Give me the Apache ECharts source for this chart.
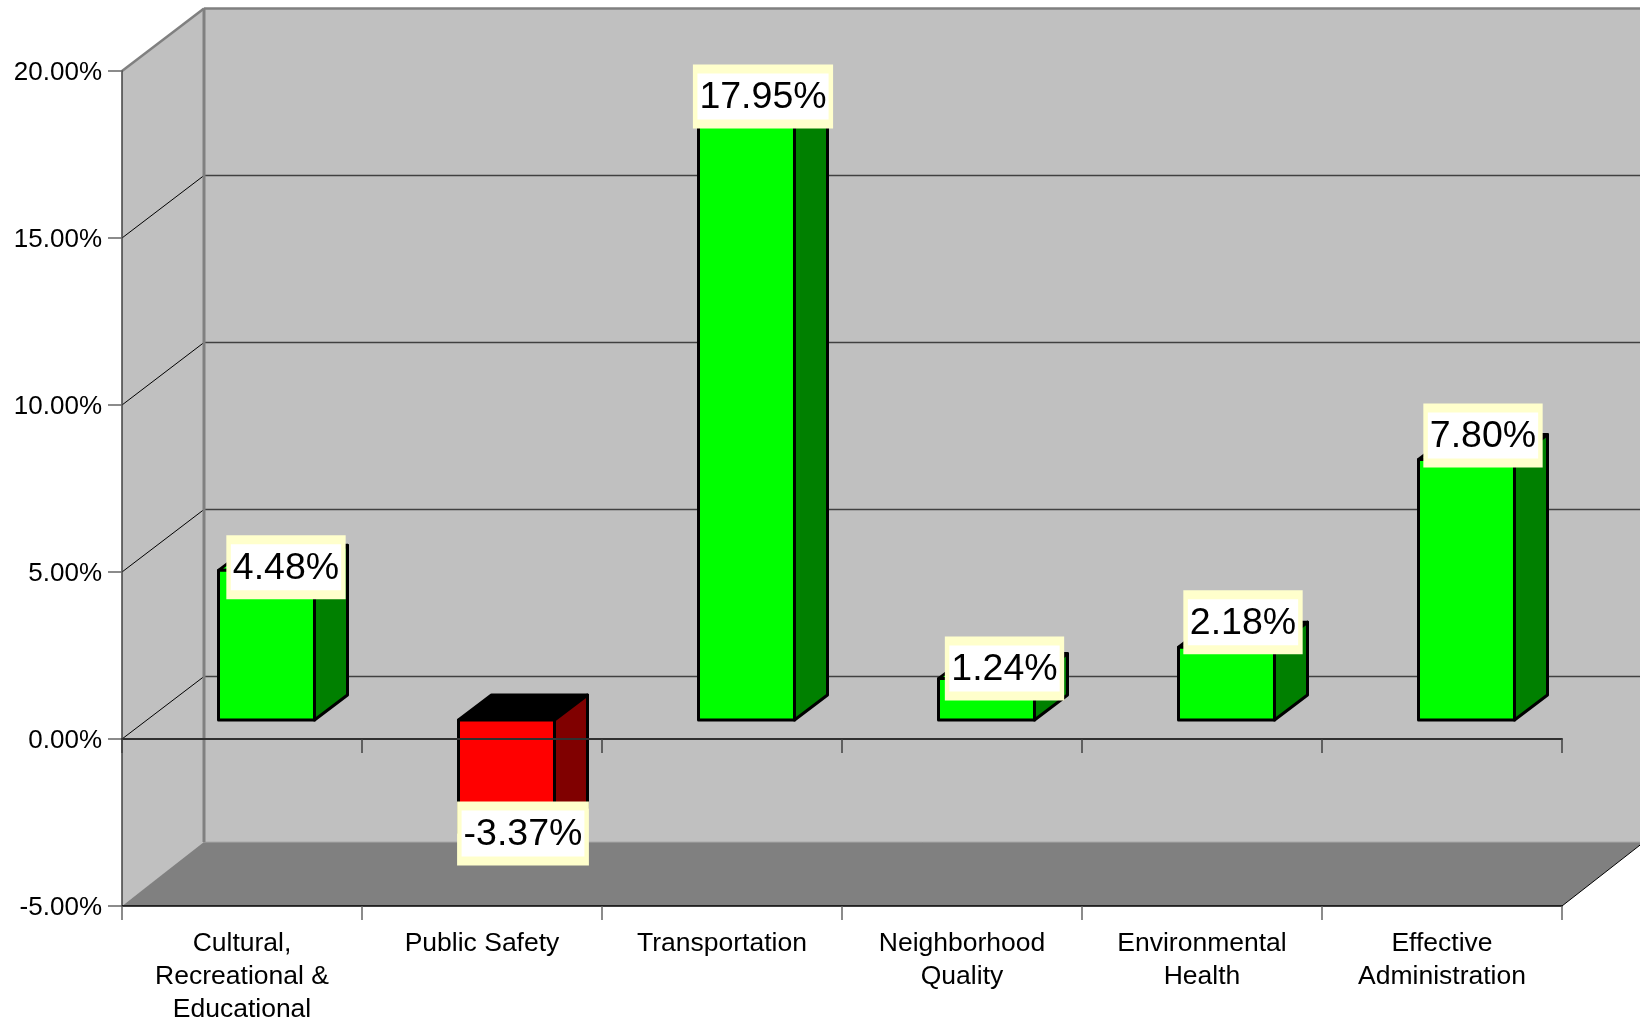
<!DOCTYPE html>
<html>
<head>
<meta charset="utf-8">
<title>Percent change by program area</title>
<style>
  html, body { margin: 0; padding: 0; background: #fff; }
  #main { width: 1640px; height: 1022px; }
</style>
<script src="https://cdn.jsdelivr.net/npm/echarts@6/dist/echarts.min.js"></script>
</head>
<body>
<div id="main"></div>
<script>
  var categories = [
    'Cultural,\nRecreational &\nEducational',
    'Public Safety',
    'Transportation',
    'Neighborhood\nQuality',
    'Environmental\nHealth',
    'Effective\nAdministration'
  ]
  var values = [4.48, -3.37, 17.95, 1.24, 2.18, 7.80]
  var yTicks = [-5, 0, 5, 10, 15, 20]

  // 3d look: how far the back wall and the bars sit behind the front plane
  var wallDepth = [82, -62.5]
  var floorDepth = [82, -64]
  var barFront = [24.5, -19]
  var barDepth = [33, -25]
  var barWidth = 96
  // the labels were dragged around by hand in the original
  var labelNudge = [[19.5, -3], [16.5, 1], [16.5, -24], [18, -10], [16.5, -25], [16.5, -24]]

  var font = '"Liberation Sans", Arial, sans-serif'

  function percent (v) {
    return v.toFixed(2) + '%'
  }

  function poly (points, fill, stroke, width) {
    return {
      type: 'polygon',
      shape: { points: points },
      style: { fill: fill, stroke: stroke || null, lineWidth: width || 0, lineJoin: 'round' }
    }
  }

  function line (p1, p2, color, width) {
    return {
      type: 'line',
      shape: { x1: p1[0], y1: p1[1], x2: p2[0], y2: p2[1] },
      style: { stroke: color, lineWidth: width }
    }
  }

  function shift (p, d) {
    return [p[0] + d[0], p[1] + d[1]]
  }

  // left wall, back wall, floor and the gridlines
  function renderWalls (params, api) {
    var left = params.coordSys.x
    var right = left + params.coordSys.width
    var top = api.coord([0, 20])[1]
    var bottom = api.coord([0, -5])[1]
    var d = wallDepth
    var tl = [left, top], bl = [left, bottom], br = [right, bottom], tr = [right, top]
    var children = [
      poly([shift(tl, d), shift(tr, d), shift(br, d), shift(bl, d)], '#c0c0c0'),
      poly([tl, shift(tl, d), shift(bl, d), bl], '#c0c0c0'),
      poly([bl, shift(bl, floorDepth), shift(br, floorDepth), br], '#808080')
    ]
    yTicks.forEach(function (t) {
      if (t === -5 || t === 20) return
      var y = api.coord([0, t])[1]
      children.push(line([left, y], shift([left, y], d), '#000', 1))
      children.push(line(shift([left, y], d), shift([right, y], d), '#404040', 1.5))
    })
    children.push(line(shift(bl, floorDepth), shift(br, floorDepth), '#a8a8a8', 1))
    children.push(line(shift(tl, d), shift(bl, floorDepth), '#808080', 3))
    children.push(line(shift(tl, d), shift(tr, d), '#808080', 2.5))
    children.push(line(tl, shift(tl, d), '#808080', 2.5))
    children.push(line(br, shift(br, floorDepth), '#000', 1))
    return { type: 'group', children: children }
  }

  function renderBar (params, api) {
    var idx = api.value(0)
    var val = api.value(1)
    var base = shift(api.coord([idx, 0]), barFront)
    var end = shift(api.coord([idx, val]), barFront)
    var x0 = base[0] - barWidth / 2
    var x1 = base[0] + barWidth / 2
    var yTop = Math.min(base[1], end[1])
    var yBot = Math.max(base[1], end[1])
    var neg = val < 0
    var front = neg ? '#ff0000' : '#00ff00'
    var side = neg ? '#800000' : '#008000'
    var cap = neg ? '#000000' : '#00ff00'
    var lw = 3
    return {
      type: 'group',
      children: [
        poly([[x0, yTop], shift([x0, yTop], barDepth), shift([x1, yTop], barDepth), [x1, yTop]], cap, '#000', lw),
        poly([[x1, yTop], shift([x1, yTop], barDepth), shift([x1, yBot], barDepth), [x1, yBot]], side, '#000', lw),
        poly([[x0, yTop], [x1, yTop], [x1, yBot], [x0, yBot]], front, '#000', lw)
      ]
    }
  }

  function renderLabel (params, api) {
    var idx = api.value(0)
    var val = api.value(1)
    var p = shift(api.coord([idx, 0]), barFront)
    var e = shift(api.coord([idx, val]), barFront)
    var n = labelNudge[idx]
    var text = percent(val)
    function el (fill, color, dy, padY, padX) {
      return {
        type: 'text',
        x: p[0] + n[0],
        y: e[1] + n[1] + dy,
        style: {
          text: text,
          font: '37.5px ' + font,
          fill: color,
          align: 'center',
          verticalAlign: 'middle',
          backgroundColor: fill,
          padding: [padY, padX, padY, padX]
        }
      }
    }
    return {
      type: 'group',
      children: [
        el('#ffffcc', 'transparent', 0, 13, 6.5),
        el('#ffffff', 'transparent', 0, 4, 2),
        el('transparent', '#000', 1.5, 0, 0)
      ]
    }
  }

  var barData = values.map(function (v, i) { return [i, v] })

  var chart = echarts.init(document.getElementById('main'), null, { renderer: 'canvas' })
  chart.setOption({
    animation: false,
    backgroundColor: '#fff',
    grid: { left: 122, right: 78, top: 71, bottom: 116, outerBoundsMode: 'none' },
    xAxis: [
      {
        type: 'category',
        data: categories,
        position: 'bottom',
        axisLine: { onZero: false, lineStyle: { color: '#000', width: 1.5 } },
        axisTick: { show: true, length: 14, lineStyle: { color: '#666', width: 1.5 } },
        axisLabel: {
          interval: 0, margin: 21, fontFamily: font, fontSize: 26.5, lineHeight: 33, color: '#000'
        }
      },
      {
        type: 'category',
        data: categories,
        gridIndex: 0,
        position: 'bottom',
        z: 3,
        axisLine: { onZero: true, lineStyle: { color: '#303030', width: 2 } },
        axisTick: { show: true, length: 14, lineStyle: { color: '#404040', width: 1.5 } },
        axisLabel: { show: false }
      }
    ],
    yAxis: {
      type: 'value',
      min: -5,
      max: 20,
      interval: 5,
      axisLine: { show: true, onZero: false, lineStyle: { color: '#404040', width: 1.5 } },
      axisTick: { show: true, length: 14, lineStyle: { color: '#666', width: 1.5 } },
      axisLabel: {
        margin: 20,
        verticalAlign: 'top',
        lineHeight: 4,
        fontFamily: font,
        fontSize: 26,
        color: '#000',
        formatter: function (v) { return percent(v) }
      },
      splitLine: { show: false }
    },
    series: [
      { type: 'custom', name: 'walls', z: -1, silent: true, data: [[0, 0]], renderItem: renderWalls },
      { type: 'custom', name: 'bars', z: 2, data: barData, renderItem: renderBar },
      { type: 'custom', name: 'labels', z: 5, silent: true, data: barData, renderItem: renderLabel }
    ]
  })
</script>
</body>
</html>
